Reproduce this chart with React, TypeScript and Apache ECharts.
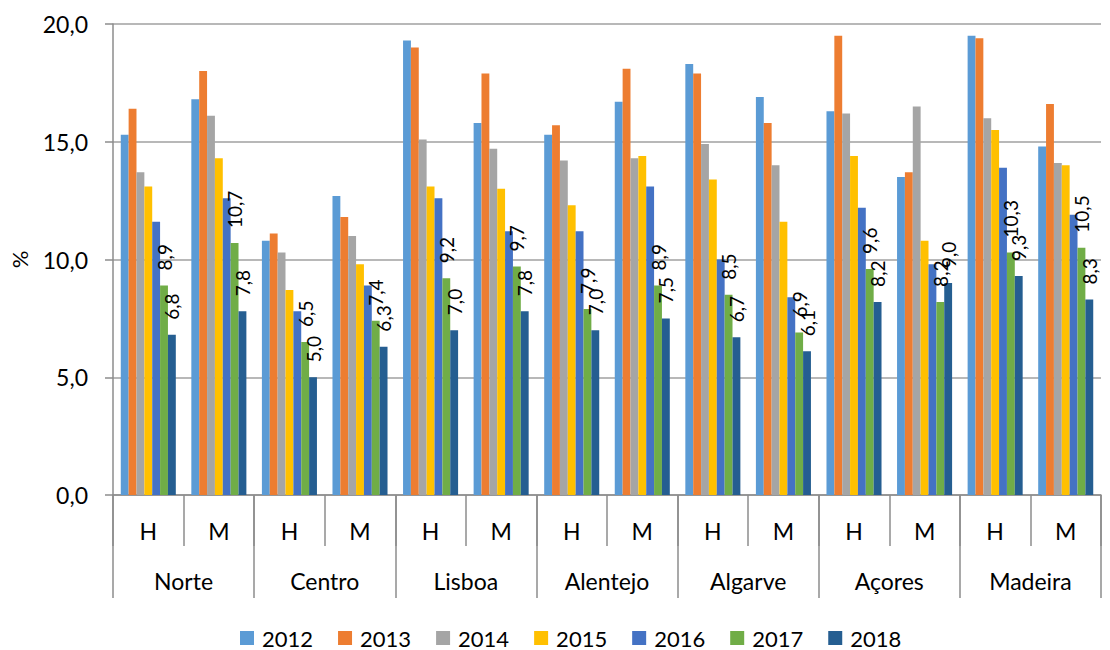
import React, { useEffect, useRef } from "react";
import * as echarts from "echarts";

const regions = ["Norte", "Centro", "Lisboa", "Alentejo", "Algarve", "Açores", "Madeira"];
const sexes = ["H", "M"];
const years = ["2012", "2013", "2014", "2015", "2016", "2017", "2018"];
const yTicks = { min: 0, max: 20, interval: 5 };

// order: Norte H, Norte M, Centro H, Centro M, Lisboa H, Lisboa M, Alentejo H, Alentejo M,
// Algarve H, Algarve M, Açores H, Açores M, Madeira H, Madeira M
const v2012 = [15.3, 16.8, 10.8, 12.7, 19.3, 15.8, 15.3, 16.7, 18.3, 16.9, 16.3, 13.5, 19.5, 14.8];
const v2013 = [16.4, 18.0, 11.1, 11.8, 19.0, 17.9, 15.7, 18.1, 17.9, 15.8, 19.5, 13.7, 19.4, 16.6];
const v2014 = [13.7, 16.1, 10.3, 11.0, 15.1, 14.7, 14.2, 14.3, 14.9, 14.0, 16.2, 16.5, 16.0, 14.1];
const v2015 = [13.1, 14.3, 8.7, 9.8, 13.1, 13.0, 12.3, 14.4, 13.4, 11.6, 14.4, 10.8, 15.5, 14.0];
const v2016 = [11.6, 12.6, 7.8, 8.9, 12.6, 11.2, 11.2, 13.1, 10.0, 8.4, 12.2, 9.8, 13.9, 11.9];
const v2017 = [8.9, 10.7, 6.5, 7.4, 9.2, 9.7, 7.9, 8.9, 8.5, 6.9, 9.6, 8.2, 10.3, 10.5];
const v2018 = [6.8, 7.8, 5.0, 6.3, 7.0, 7.8, 7.0, 7.5, 6.7, 6.1, 8.2, 9.0, 9.3, 8.3];

const seriesValues = [v2012, v2013, v2014, v2015, v2016, v2017, v2018];
const labelled = [false, false, false, false, false, true, true];
const colors = ["#5B9BD5", "#ED7D31", "#A5A5A5", "#FFC000", "#4472C4", "#70AD47", "#255E91"];

const FONT = "Lato, 'Open Sans', sans-serif";
const fmt = (v: number) => Number(v).toFixed(1).replace(".", ",");

export default function App() {
  const ref = useRef<HTMLDivElement>(null);
  useEffect(() => {
    if (!ref.current) return;
    const chart = echarts.init(ref.current, undefined, { renderer: "svg" });
    const cats: string[] = [];
    regions.forEach((r) => sexes.forEach((s) => cats.push(r + "|" + s)));
    const gridColor = "#a0a0a0";
    const axisColor = "#8c8c8c";
    chart.setOption({
      animation: false,
      backgroundColor: "#ffffff",
      textStyle: { fontFamily: FONT },
      grid: { left: 104, right: 9, top: 24, bottom: 155, containLabel: false },
      legend: {
        left: 240,
        top: 627,
        padding: 0,
        itemWidth: 14,
        itemHeight: 14,
        itemGap: 25,
        icon: "rect",
        textStyle: {
          fontSize: 22,
          color: "#000",
          fontFamily: FONT,
          padding: [0, 0, 0, 3],
        },
        data: years,
      },
      xAxis: [
        {
          type: "category",
          data: cats,
          position: "bottom",
          axisLine: { show: true, lineStyle: { color: axisColor, width: 1.5 } },
          axisTick: { show: true, interval: 0, length: 51, lineStyle: { color: axisColor, width: 1.5 } },
          axisLabel: {
            interval: 0,
            margin: 24,
            fontSize: 23,
            color: "#000",
            fontFamily: FONT,
            formatter: (v: string) => v.split("|")[1],
          },
        },
        {
          type: "category",
          data: regions,
          position: "bottom",
          axisLine: { show: false },
          axisTick: { show: true, interval: 0, length: 103, lineStyle: { color: axisColor, width: 1.5 } },
          axisLabel: { interval: 0, margin: 74, fontSize: 23, color: "#000", fontFamily: FONT },
          splitLine: { show: false },
        },
      ],
      yAxis: {
        type: "value",
        min: yTicks.min,
        max: yTicks.max,
        interval: yTicks.interval,
        name: "%",
        nameLocation: "middle",
        nameRotate: 90,
        nameGap: 83,
        nameTextStyle: { fontSize: 22, color: "#000", fontFamily: FONT },
        axisLine: { show: true, lineStyle: { color: axisColor, width: 1.5 } },
        axisTick: { show: true, length: 8, lineStyle: { color: axisColor, width: 1.5 } },
        axisLabel: { margin: 25, fontSize: 23, color: "#000", fontFamily: FONT, formatter: (v: number) => fmt(v) },
        splitLine: { show: true, lineStyle: { color: gridColor, width: 1.5 } },
      },
      series: years.map((y, i) => ({
        name: y,
        type: "bar",
        xAxisIndex: 0,
        data: seriesValues[i],
        barGap: "0%",
        barCategoryGap: "22%",
        itemStyle: { color: colors[i] },
        label: labelled[i]
          ? {
              show: true,
              position: "top",
              rotate: 90,
              align: "left",
              verticalAlign: "middle",
              distance: 15,
              fontSize: 19,
              color: "#000",
              fontFamily: FONT,
              formatter: (p: any) => fmt(p.value),
            }
          : { show: false },
      })),
    });
    return () => chart.dispose();
  }, []);
  return (
    <div
      ref={ref}
      style={{ position: "fixed", left: 0, top: 0, width: 1110, height: 650, background: "#fff" }}
    />
  );
}
